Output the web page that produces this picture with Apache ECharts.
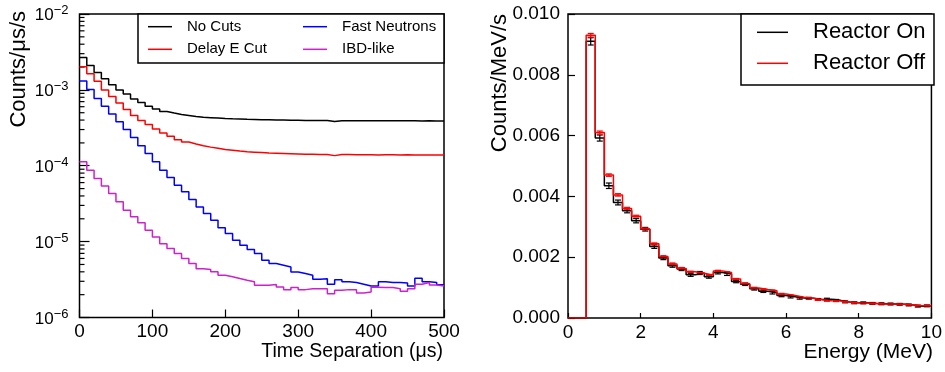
<!DOCTYPE html>
<html><head><meta charset="utf-8">
<script src="https://cdn.jsdelivr.net/npm/echarts@6/dist/echarts.min.js"></script>
<style>html,body{margin:0;padding:0;background:#fff}#c{width:945px;height:372px}</style>
</head><body><div id="c"></div>
<script>
// ---------- Left panel: time separation histograms (10 us bins) ----------
const timeBinLow = [0,10,20,30,40,50,60,70,80,90,100,110,120,130,140,150,160,170,180,190,200,210,220,230,240,250,260,270,280,290,300,310,320,330,340,350,360,370,380,390,400,410,420,430,440,450,460,470,480,490];
const timeBinWidth = 10;
const noCuts = [2.68e-3,2.1e-3,1.7e-3,1.4e-3,1.17e-3,1.0e-3,8.8e-4,7.6e-4,6.8e-4,6.1e-4,5.6e-4,5.2e-4,4.95e-4,4.75e-4,4.6e-4,4.45e-4,4.35e-4,4.3e-4,4.25e-4,4.2e-4,4.16e-4,4.13e-4,4.1e-4,4.08e-4,4.05e-4,4.03e-4,4.01e-4,4.0e-4,3.98e-4,3.97e-4,3.96e-4,3.95e-4,3.95e-4,3.94e-4,3.84e-4,3.93e-4,3.93e-4,3.92e-4,3.92e-4,3.92e-4,3.91e-4,3.92e-4,3.91e-4,3.91e-4,3.92e-4,3.91e-4,3.9e-4,3.91e-4,3.9e-4,3.9e-4];
const delayECut = [2.02e-3,1.63e-3,1.3e-3,1.0e-3,8.2e-4,6.7e-4,5.5e-4,4.6e-4,3.95e-4,3.5e-4,3.05e-4,2.7e-4,2.45e-4,2.2e-4,2.05e-4,1.93e-4,1.84e-4,1.76e-4,1.7e-4,1.64e-4,1.6e-4,1.56e-4,1.53e-4,1.51e-4,1.49e-4,1.47e-4,1.46e-4,1.45e-4,1.44e-4,1.43e-4,1.42e-4,1.42e-4,1.41e-4,1.41e-4,1.36e-4,1.41e-4,1.41e-4,1.4e-4,1.4e-4,1.4e-4,1.39e-4,1.4e-4,1.4e-4,1.39e-4,1.4e-4,1.39e-4,1.39e-4,1.39e-4,1.39e-4,1.39e-4];
const fastNeutrons = [1.31e-3,1.01e-3,7.7e-4,6.1e-4,4.8e-4,3.8e-4,3.0e-4,2.36e-4,1.83e-4,1.45e-4,1.13e-4,8.75e-5,7.0e-5,5.55e-5,4.53e-5,3.59e-5,2.87e-5,2.35e-5,1.91e-5,1.52e-5,1.28e-5,1.04e-5,8.97e-6,7.86e-6,6.97e-6,5.69e-6,5.14e-6,4.89e-6,4.64e-6,3.99e-6,3.79e-6,3.6e-6,3.2e-6,3.25e-6,2.75e-6,3.15e-6,2.95e-6,2.9e-6,2.75e-6,2.6e-6,2.6e-6,2.95e-6,2.9e-6,2.9e-6,2.85e-6,2.6e-6,3.3e-6,2.95e-6,2.9e-6,2.7e-6];
const ibdLike = [1.13e-4,8.75e-5,6.8e-5,5.4e-5,4.3e-5,3.35e-5,2.6e-5,2.12e-5,1.77e-5,1.41e-5,1.15e-5,9.4e-6,8.1e-6,7.0e-6,6.0e-6,5.15e-6,4.4e-6,4.3e-6,4.0e-6,3.6e-6,3.45e-6,3.26e-6,3.1e-6,2.95e-6,2.66e-6,2.66e-6,2.72e-6,2.53e-6,2.33e-6,2.48e-6,2.33e-6,2.4e-6,2.4e-6,2.4e-6,2.05e-6,2.28e-6,2.33e-6,2.33e-6,2.11e-6,2.17e-6,2.5e-6,2.48e-6,2.48e-6,2.4e-6,2.22e-6,2.4e-6,2.74e-6,2.9e-6,2.68e-6,2.6e-6];
const leftYTickExponents = [-6,-5,-4,-3,-2];
const leftXTicks = [0,100,200,300,400,500];

// ---------- Right panel: energy spectra (0.25 MeV bins) ----------
const energyBinLow = [0.5,0.75,1.0,1.25,1.5,1.75,2.0,2.25,2.5,2.75,3.0,3.25,3.5,3.75,4.0,4.25,4.5,4.75,5.0,5.25,5.5,5.75,6.0,6.25,6.5,6.75,7.0,7.25,7.5,7.75,8.0,8.25,8.5,8.75,9.0,9.25,9.5,9.75];
const energyBinWidth = 0.25;
const reactorOn = [0.0091,0.00592,0.00435,0.0038,0.00353,0.0032,0.00292,0.00235,0.00197,0.00172,0.00161,0.00142,0.00148,0.00136,0.0015,0.00145,0.0012,0.00111,0.00096,0.00088,0.00083,0.00074,0.0007,0.00066,0.00065,0.00061,0.00062,0.00058,0.00053,0.0005,0.0005,0.00048,0.00047,0.00046,0.00045,0.00043,0.00039,0.0004];
const reactorOnErr = [0.00012,0.0001,0.00009,0.00008,0.00007,0.00007,0.00006,0.00006,0.00005,0.00005,0.00005,0.00005,0.00005,0.00005,0.00005,0.00005,0.00004,0.00004,0.00004,0.00004,0.00004,0.00004,0.00004,0.00004,0.00003,0.00003,0.00003,0.00003,0.00003,0.00003,0.00003,0.00003,0.00003,0.00003,0.00003,0.00003,0.00003,0.00003];
const reactorOff = [0.0093,0.0061,0.0047,0.00405,0.0036,0.00335,0.00293,0.00244,0.00202,0.00178,0.00163,0.00152,0.00147,0.00141,0.00155,0.0015,0.00128,0.00113,0.00099,0.00094,0.0009,0.00079,0.00074,0.00068,0.00065,0.0006,0.00057,0.00056,0.00053,0.0005,0.00049,0.00048,0.00046,0.00046,0.00045,0.00043,0.0004,0.0004];
const reactorOffErr = [0.00006,0.00005,0.00004,0.00004,0.00004,0.00003,0.00003,0.00003,0.00003,0.00003,0.00003,0.00002,0.00002,0.00002,0.00002,0.00002,0.00002,0.00002,0.00002,0.00002,0.00002,0.00002,0.00002,0.00002,0.00002,0.00002,0.00002,0.00002,0.00002,0.00002,0.00002,0.00002,0.00002,0.00002,0.00002,0.00002,0.00002,0.00002];

const FONT = 'Liberation Sans, Arial, Helvetica, sans-serif';

function steps(lows, width, vals, lead) {
  const out = lead ? lead.slice() : [];
  for (let i = 0; i < vals.length; i++) {
    out.push([lows[i], vals[i]]);
    out.push([lows[i] + width, vals[i]]);
  }
  return out;
}
function errPoints(lows, width, vals, errs) {
  return vals.map((v, i) => [lows[i] + width / 2, v, errs[i]]);
}
// minor ticks of the log axis (decoration)
const minorTickVals = [];
for (let e = -6; e < -2; e++) for (let m = 2; m <= 9; m++) minorTickVals.push([0, m * Math.pow(10, e)]);

function errRender(params, api) {
  const x = api.value(0), v = api.value(1), e = api.value(2);
  const t = api.coord([x, v + e]), b = api.coord([x, v - e]);
  const c = api.visual('color');
  const st = {stroke: c, lineWidth: 1.2};
  return {type: 'group', children: [
    {type: 'line', shape: {x1: t[0], y1: t[1], x2: b[0], y2: b[1]}, style: st},
    {type: 'line', shape: {x1: t[0] - 3, y1: t[1], x2: t[0] + 3, y2: t[1]}, style: st},
    {type: 'line', shape: {x1: b[0] - 3, y1: b[1], x2: b[0] + 3, y2: b[1]}, style: st}
  ]};
}

const lineBase = {type: 'line', symbol: 'none', silent: true, animation: false, lineStyle: {width: 1.5}};

const chart = echarts.init(document.getElementById('c'), null, {renderer: 'canvas'});
chart.setOption({
  backgroundColor: '#fff',
  animation: false,
  textStyle: {fontFamily: FONT},
  grid: [
    {left: 79.5, top: 14, width: 364.5, height: 303.5, show: true, borderColor: '#000', borderWidth: 1.5, containLabel: false},
    {left: 568, top: 14, width: 366, height: 304, show: true, borderColor: '#000', borderWidth: 1.5, containLabel: false}
  ],
  xAxis: [
    {gridIndex: 0, type: 'value', min: leftXTicks[0], max: leftXTicks[leftXTicks.length - 1], interval: 100,
     axisLine: {show: false}, splitLine: {show: false},
     axisTick: {inside: true, length: 8, lineStyle: {color: '#000', width: 1.2}},
     axisLabel: {fontSize: 19, color: '#000', margin: 5, fontFamily: FONT, showMaxLabel: true, showMinLabel: true}},
    {gridIndex: 1, type: 'value', min: 0, max: 10, interval: 2,
     axisLine: {show: false}, splitLine: {show: false},
     axisTick: {inside: true, length: 5, lineStyle: {color: '#000', width: 1.2}},
     axisLabel: {fontSize: 19, color: '#000', margin: 5, fontFamily: FONT, showMaxLabel: true, showMinLabel: true}}
  ],
  yAxis: [
    {gridIndex: 0, type: 'log', logBase: 10, min: Math.pow(10, leftYTickExponents[0]), max: Math.pow(10, leftYTickExponents[leftYTickExponents.length - 1]),
     axisLine: {show: false}, splitLine: {show: false},
     axisTick: {inside: true, length: 10, lineStyle: {color: '#000', width: 1.2}},
     axisLabel: {color: '#000', margin: 11, fontFamily: FONT,
       formatter: v => '{b|10}{s|\u2212' + Math.abs(Math.round(Math.log10(v))) + '}',
       rich: {b: {fontSize: 17, lineHeight: 20, verticalAlign: 'bottom', fontFamily: FONT, color: '#000'},
              s: {fontSize: 13, lineHeight: 13, verticalAlign: 'top', fontFamily: FONT, color: '#000'}}}},
    {gridIndex: 1, type: 'value', min: 0, max: 0.01, interval: 0.002,
     axisLine: {show: false}, splitLine: {show: false},
     axisTick: {inside: true, length: 7, lineStyle: {color: '#000', width: 1.2}},
     axisLabel: {fontSize: 19, color: '#000', margin: 8, fontFamily: FONT, formatter: v => v.toFixed(3)}}
  ],
  legend: [
    {data: ['No Cuts', 'Delay E Cut'], orient: 'vertical', left: 148, top: 18.7, padding: 0,
     icon: 'rect', itemWidth: 24, itemHeight: 1.5, itemGap: 6.6, selectedMode: false,
     textStyle: {fontSize: 15, lineHeight: 16, color: '#000', fontFamily: FONT, padding: [0, 0, 0, 10]}},
    {data: ['Fast Neutrons', 'IBD-like'], orient: 'vertical', left: 303, top: 18.7, padding: 0,
     icon: 'rect', itemWidth: 24, itemHeight: 1.5, itemGap: 6.6, selectedMode: false,
     textStyle: {fontSize: 15, lineHeight: 16, color: '#000', fontFamily: FONT, padding: [0, 0, 0, 10]}},
    {data: ['Reactor On', 'Reactor Off'], orient: 'vertical', left: 757, top: 20.3, padding: 0,
     icon: 'rect', itemWidth: 31, itemHeight: 1.5, itemGap: 7, selectedMode: false,
     textStyle: {fontSize: 22, lineHeight: 24, color: '#000', fontFamily: FONT, padding: [0, 0, 0, 20]}}
  ],
  graphic: [
    {type: 'rect', z: 1, shape: {x: 138, y: 14, width: 306, height: 49}, style: {fill: '#fff', stroke: '#000', lineWidth: 1.5}},
    {type: 'rect', z: 1, shape: {x: 741, y: 14, width: 193, height: 71}, style: {fill: '#fff', stroke: '#000', lineWidth: 1.5}},
    {type: 'text', x: 443, y: 352, style: {text: 'Time Separation (\u03bcs)', font: '19.5px ' + FONT, fill: '#000', align: 'right', verticalAlign: 'middle'}},
    {type: 'text', x: 933, y: 352, style: {text: 'Energy (MeV)', font: '21px ' + FONT, fill: '#000', align: 'right', verticalAlign: 'middle'}},
    {type: 'text', x: 19, y: 11, rotation: Math.PI / 2, style: {text: 'Counts/\u03bcs/s', font: '22px ' + FONT, fill: '#000', align: 'right', verticalAlign: 'middle'}},
    {type: 'text', x: 500, y: 14, rotation: Math.PI / 2, style: {text: 'Counts/MeV/s', font: '22px ' + FONT, fill: '#000', align: 'right', verticalAlign: 'middle'}}
  ],
  series: [
    Object.assign({}, lineBase, {name: 'No Cuts', color: '#000', xAxisIndex: 0, yAxisIndex: 0, data: steps(timeBinLow, timeBinWidth, noCuts)}),
    Object.assign({}, lineBase, {name: 'Delay E Cut', color: '#ff0000', xAxisIndex: 0, yAxisIndex: 0, data: steps(timeBinLow, timeBinWidth, delayECut)}),
    Object.assign({}, lineBase, {name: 'Fast Neutrons', color: '#0000ff', xAxisIndex: 0, yAxisIndex: 0, data: steps(timeBinLow, timeBinWidth, fastNeutrons)}),
    Object.assign({}, lineBase, {name: 'IBD-like', color: '#cc22cc', xAxisIndex: 0, yAxisIndex: 0, data: steps(timeBinLow, timeBinWidth, ibdLike)}),
    {type: 'custom', name: 'minorTicks', xAxisIndex: 0, yAxisIndex: 0, silent: true, clip: false, data: minorTickVals,
     renderItem: (params, api) => {
       const p = api.coord([api.value(0), api.value(1)]);
       return {type: 'line', shape: {x1: p[0], y1: p[1], x2: p[0] + 5, y2: p[1]}, style: {stroke: '#000', lineWidth: 1.2}};
     }},
    Object.assign({}, lineBase, {name: 'Reactor On', color: '#000', xAxisIndex: 1, yAxisIndex: 1, data: steps(energyBinLow, energyBinWidth, reactorOn, [[0, 0], [energyBinLow[0], 0]])}),
    {type: 'custom', name: 'Reactor On err', color: '#000', xAxisIndex: 1, yAxisIndex: 1, silent: true, data: errPoints(energyBinLow, energyBinWidth, reactorOn, reactorOnErr), renderItem: errRender},
    Object.assign({}, lineBase, {name: 'Reactor Off', color: '#ff0000', xAxisIndex: 1, yAxisIndex: 1, data: steps(energyBinLow, energyBinWidth, reactorOff, [[0, 0], [energyBinLow[0], 0]])}),
    {type: 'custom', name: 'Reactor Off err', color: '#ff0000', xAxisIndex: 1, yAxisIndex: 1, silent: true, data: errPoints(energyBinLow, energyBinWidth, reactorOff, reactorOffErr), renderItem: errRender}
  ]
});
</script></body></html>
